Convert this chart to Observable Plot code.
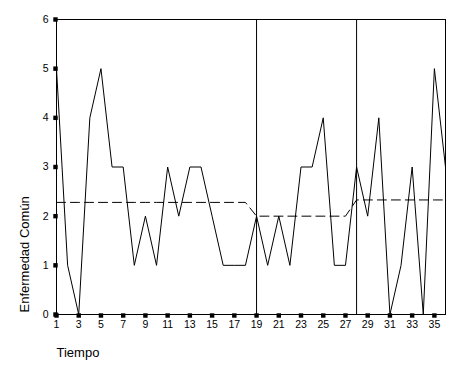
<!DOCTYPE html>
<html>
<head>
<meta charset="utf-8">
<script src="https://cdn.jsdelivr.net/npm/d3@7"></script>
<script src="https://cdn.jsdelivr.net/npm/@observablehq/plot@0.6"></script>
<style>
  html, body { margin: 0; padding: 0; background: #fff; }
  #chart svg { display: block; }
</style>
</head>
<body>
<div id="chart"></div>
<script>
const tiempo = [1,2,3,4,5,6,7,8,9,10,11,12,13,14,15,16,17,18,19,20,21,22,23,24,25,26,27,28,29,30,31,32,33,34,35,36];
const enfermedad = [5,1,0,4,5,3,3,1,2,1,3,2,3,3,2,1,1,1,2,1,2,1,3,3,4,1,1,3,2,4,0,1,3,0,5,3];
const phaseStart = [1, 19, 28];
const phaseEnd = [18, 27, 36];
const phaseMean = [2.28, 2.0, 2.33];
const phaseLines = [19, 28];
const xTicks = [1,3,5,7,9,11,13,15,17,19,21,23,25,27,29,31,33,35];
const yTicks = [0,1,2,3,4,5,6];

const series = tiempo.map((t, i) => ({t, v: enfermedad[i]}));
const means = tiempo.map(t => {
  const k = phaseStart.findIndex((s, j) => t >= s && t <= phaseEnd[j]);
  return {t, m: phaseMean[k]};
});

const font = "'Liberation Sans', Arial, sans-serif";

const chart = Plot.plot({
  width: 464,
  height: 371,
  marginLeft: 56,
  marginRight: 19,
  marginTop: 19,
  marginBottom: 57,
  style: {fontFamily: font, background: "#fff", color: "#000"},
  x: {domain: [1, 36]},
  y: {domain: [0, 6]},
  marks: [
    Plot.ruleX(phaseLines, {stroke: "#000", strokeWidth: 1}),
    Plot.line(means, {x: "t", y: "m", stroke: "#000", strokeWidth: 1, strokeDasharray: "9,5", clip: true}),
    Plot.line(series, {x: "t", y: "v", stroke: "#000", strokeWidth: 1, clip: true}),
    Plot.frame({stroke: "#000", strokeWidth: 1}),
    Plot.axisX({ticks: xTicks, tickSize: 0, tickPadding: 6, fontSize: 10.5, label: null, tickFormat: d => String(d)}),
    Plot.axisY({ticks: yTicks, tickSize: 0, tickPadding: 8, fontSize: 10.5, label: null, tickFormat: d => String(d)}),
    Plot.dot(xTicks, {x: d => d, y: () => 0, symbol: "square", r: 2.5, fill: "#000", stroke: null, dy: 1}),
    Plot.dot(yTicks, {x: () => 1, y: d => d, symbol: "square", r: 2.5, fill: "#000", stroke: null, dx: -1}),
    Plot.text(["Tiempo"], {frameAnchor: "bottom-left", dy: 42, textAnchor: "start", fontSize: 13, fill: "#000"}),
    Plot.text(["Enfermedad Común"], {frameAnchor: "bottom-left", dx: -28, dy: -2, rotate: -90, textAnchor: "start", fontSize: 13, fill: "#000"})
  ]
});
document.getElementById("chart").appendChild(chart);
</script>
</body>
</html>
